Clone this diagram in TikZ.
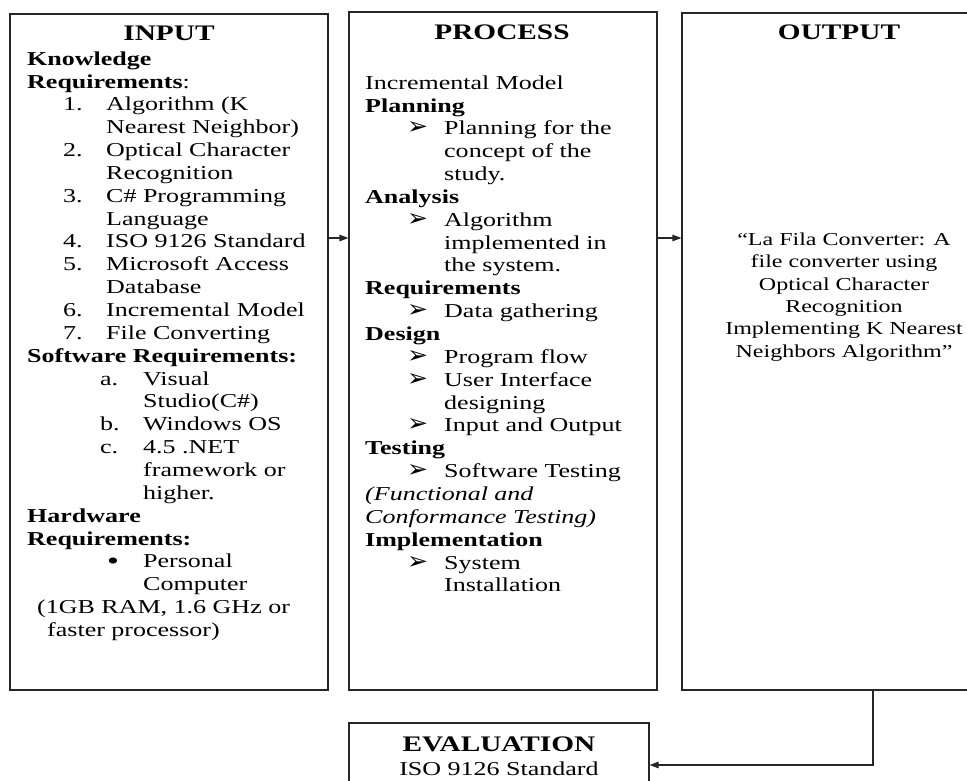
\documentclass[tikz,border=0pt]{standalone}
\usepackage{fontspec}
\usepackage{graphicx}
\setmainfont{Liberation Serif}[FakeStretch=1.32]
\newfontfamily\dingfont{DejaVu Sans}
\usetikzlibrary{arrows.meta}

% type sizes
\newcommand\bodysize{\fontsize{19.7pt}{22.85pt}\selectfont}
\newcommand\outsize{\fontsize{18.2pt}{22.4pt}\selectfont}
\newcommand\headsize{\fontsize{22.2pt}{26pt}\selectfont\bfseries}
% list rows: label indent, gap to text, label, text
\newcommand\listrow[4]{\hspace*{#1}\makebox[#2][l]{#3}#4\par}
% continuation / plain rows with an indent
\newcommand\plainrow[2]{\hspace*{#1}#2\par}
\newcommand\firstline{\leavevmode\rule{0pt}{16pt}}
\newcommand\pointer{\resizebox{21pt}{13pt}{\dingfont\char"27A2}}
\newcommand\dotmark{\raisebox{-2pt}{\scalebox{1.3}{•}}}

\tikzset{
  frame/.style={draw=black!85, line width=1.1pt, inner sep=0pt},
  link/.style={draw=black!85, line width=1.1pt, -{Triangle[length=9pt,width=6.5pt]}},
  heading/.style={anchor=base, inner sep=0pt, font=\headsize},
  textblock/.style={anchor=north west, inner sep=0pt, font=\bodysize},
}

\begin{document}
\begin{tikzpicture}[x=1pt, y=-1pt]
\useasboundingbox (0,0) rectangle (967,781);
\clip (0,0) rectangle (967,781);

% frames
\node[frame, minimum width=318pt, minimum height=676pt] (inbox) at (169,352) {};
\node[frame, minimum width=308pt, minimum height=678pt] (procbox) at (503,351) {};
\node[frame, minimum width=308pt, minimum height=677pt] (outbox) at (836,351.5) {};
\node[frame, minimum width=300pt, minimum height=77pt] (evalbox) at (499,761.5) {};

% headings
\node[heading] (inhead) at (169,41) {INPUT};
\node[heading] (prochead) at (502,40) {PROCESS};
\node[heading] (outhead) at (839,40) {OUTPUT};
\node[heading] (evalhead) at (499,751) {EVALUATION};
\node[anchor=base, inner sep=0pt, font=\bodysize] (evalline) at (499,775) {ISO 9126 Standard};

% input contents
\node[textblock] (intext) at (27,49) {\parbox[t]{300pt}{\raggedright
\firstline\textbf{Knowledge}\par
\textbf{Requirements}:\par
\listrow{36pt}{43pt}{1.}{Algorithm (K}
\plainrow{79pt}{Nearest Neighbor)}
\listrow{36pt}{43pt}{2.}{Optical Character}
\plainrow{79pt}{Recognition}
\listrow{36pt}{43pt}{3.}{C\# Programming}
\plainrow{79pt}{Language}
\listrow{36pt}{43pt}{4.}{ISO 9126 Standard}
\listrow{36pt}{43pt}{5.}{Microsoft Access}
\plainrow{79pt}{Database}
\listrow{36pt}{43pt}{6.}{Incremental Model}
\listrow{36pt}{43pt}{7.}{File Converting}
\textbf{Software Requirements:}\par
\listrow{73pt}{43pt}{a.}{Visual}
\plainrow{116pt}{Studio(C\#)}
\listrow{73pt}{43pt}{b.}{Windows OS}
\listrow{73pt}{43pt}{c.}{4.5 .NET}
\plainrow{116pt}{framework or}
\plainrow{116pt}{higher.}
\textbf{Hardware}\par
\textbf{Requirements:}\par
\listrow{80pt}{36pt}{\dotmark}{Personal}
\plainrow{116pt}{Computer}
\plainrow{10pt}{(1GB RAM, 1.6 GHz or}
\plainrow{20pt}{faster processor)}
}};

% process contents
\node[textblock] (proctext) at (365,73) {\parbox[t]{290pt}{\raggedright
\firstline Incremental Model\par
\textbf{Planning}\par
\listrow{42pt}{37pt}{\pointer}{Planning for the}
\plainrow{79pt}{concept of the}
\plainrow{79pt}{study.}
\textbf{Analysis}\par
\listrow{42pt}{37pt}{\pointer}{Algorithm}
\plainrow{79pt}{implemented in}
\plainrow{79pt}{the system.}
\textbf{Requirements}\par
\listrow{42pt}{37pt}{\pointer}{Data gathering}
\textbf{Design}\par
\listrow{42pt}{37pt}{\pointer}{Program flow}
\listrow{42pt}{37pt}{\pointer}{User Interface}
\plainrow{79pt}{designing}
\listrow{42pt}{37pt}{\pointer}{Input and Output}
\textbf{Testing}\par
\listrow{42pt}{37pt}{\pointer}{Software Testing}
\textit{(Functional and}\par
\textit{Conformance Testing)}\par
\textbf{Implementation}\par
\listrow{42pt}{37pt}{\pointer}{System}
\plainrow{79pt}{Installation}
}};

% output contents
\node[anchor=north, inner sep=0pt, font=\outsize] (outtext) at (844,229) {\parbox[t]{280pt}{\centering
\firstline “La Fila Converter: A\\
file converter using\\
Optical Character\\
Recognition\\
Implementing K Nearest\\
Neighbors Algorithm”}};

% connectors
\coordinate (flowrow) at (0,238);
\coordinate (backturn) at (873,765);
\draw[link] (inbox.east |- flowrow) -- (procbox.west |- flowrow);
\draw[link] (procbox.east |- flowrow) -- (outbox.west |- flowrow);
\draw[link] (outbox.south -| backturn) -- (backturn) -- (evalbox.east |- backturn);
\end{tikzpicture}
\end{document}
